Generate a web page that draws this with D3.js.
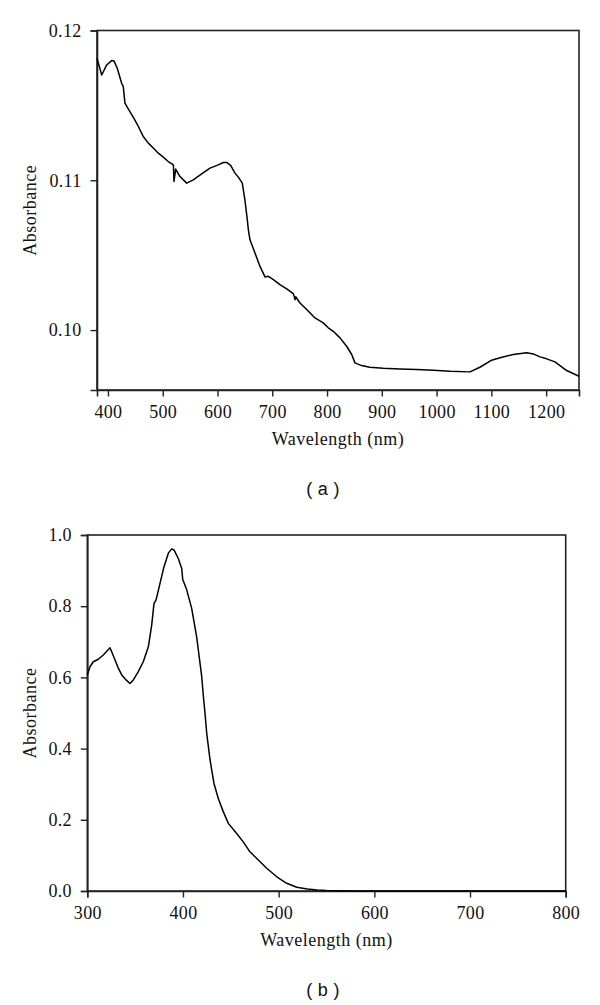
<!DOCTYPE html>
<html>
<head>
<meta charset="utf-8">
<script src="https://cdn.jsdelivr.net/npm/d3@7"></script>
<style>
  html, body { margin: 0; padding: 0; background: #fff; }
  svg { display: block; }
</style>
</head>
<body>
<svg id="chart" width="600" height="1005" xmlns="http://www.w3.org/2000/svg"></svg>
<script>
// ---- Panel (a) data ----
const waveA = [380, 388.6, 397.7, 406.8, 411, 417, 425, 428, 431, 440, 449, 455.5, 464.5, 473.7, 482.8, 491.9, 501, 510, 517.5, 519.5, 520.6, 523.6, 531.5, 543.7, 555.8, 571, 586.3, 601.5, 610.6, 616.7, 624, 632, 638, 645.3, 650, 654.4, 656.3, 659.3, 668.4, 677.6, 686.7, 692.8, 702, 714, 726.3, 738.4, 740, 741.5, 743, 750.6, 762.8, 778, 793, 802.3, 811.4, 823.6, 835.8, 845, 851, 863, 878, 902.7, 933, 963.7, 994, 1024.5, 1061, 1079, 1100.6, 1115.8, 1140, 1164.5, 1176.6, 1188.8, 1201, 1216, 1237.5, 1260];
const absA = [0.11815, 0.11703, 0.1177, 0.11799, 0.11797, 0.11748, 0.11648, 0.11625, 0.11515, 0.11459, 0.11403, 0.11359, 0.11292, 0.11248, 0.11215, 0.11181, 0.11155, 0.11125, 0.11108, 0.11100, 0.10992, 0.11075, 0.11025, 0.10981, 0.11003, 0.11043, 0.11081, 0.11103, 0.11119, 0.11119, 0.11099, 0.11048, 0.11021, 0.10981, 0.1087, 0.10737, 0.1067, 0.10603, 0.10515, 0.10425, 0.10355, 0.10359, 0.10337, 0.10303, 0.10275, 0.10243, 0.10225, 0.10203, 0.10222, 0.10181, 0.10137, 0.10081, 0.10048, 0.10015, 0.09992, 0.09948, 0.09892, 0.09837, 0.09781, 0.09763, 0.09752, 0.09745, 0.09741, 0.09737, 0.09732, 0.09725, 0.09721, 0.09752, 0.09799, 0.09815, 0.09837, 0.09848, 0.09841, 0.09821, 0.09808, 0.09788, 0.0973, 0.09692];
const xTicksA = [400, 500, 600, 700, 800, 900, 1000, 1100, 1200];
const yTicksA = [0.10, 0.11, 0.12];

// ---- Panel (b) data ----
const waveB = [300, 302.8, 306.3, 311.5, 316.7, 323.7, 325.5, 329, 332.4, 336, 340.5, 344.6, 348.1, 353.3, 358.5, 363.8, 367.3, 369.7, 371.8, 376, 380.2, 384.7, 388.2, 390.6, 395.1, 398.7, 399.7, 403.9, 409.1, 414.3, 419.6, 421.2, 423, 424.8, 428.3, 432.4, 436.9, 442.1, 447.4, 454.4, 463, 470, 478.7, 487.5, 498, 508.4, 518.9, 530, 540, 550, 560, 580, 600, 650, 700, 750, 800];
const absB = [0.607, 0.630, 0.644, 0.651, 0.663, 0.683, 0.672, 0.649, 0.626, 0.607, 0.593, 0.583, 0.593, 0.616, 0.644, 0.686, 0.747, 0.808, 0.817, 0.864, 0.911, 0.949, 0.961, 0.958, 0.934, 0.906, 0.876, 0.846, 0.794, 0.714, 0.602, 0.55, 0.50, 0.443, 0.368, 0.302, 0.260, 0.223, 0.190, 0.167, 0.138, 0.110, 0.087, 0.064, 0.040, 0.0216, 0.0104, 0.0055, 0.0028, 0.0012, 0.0006, 0.0003, 0.0002, 0.0001, 0.0, 0.0, 0.0];
const xTicksB = [300, 400, 500, 600, 700, 800];
const yTicksB = [0.0, 0.2, 0.4, 0.6, 0.8, 1.0];

const xTitle = "Wavelength (nm)";
const yTitle = "Absorbance";
const panelLabels = ["( a )", "( b )"];

const svg = d3.select("#chart");
const axisColor = "#222";
const SERIF = "Liberation Serif";
const SANS = "Liberation Sans";

function styleText(sel, fam, size, spacing) {
  sel.attr("font-family", fam).attr("font-size", size)
     .style("font-family", fam).style("font-size", size + "px")
     .style("letter-spacing", (spacing || 0) + "px")
     .attr("fill", "#111");
}

function drawPanel(cfg) {
  const { left, right, top, bottom, xDomain, yDomain, xs, ys, xTicks, yTicks, yFmt, label, labelY, xTitleY } = cfg;
  const x = d3.scaleLinear().domain(xDomain).range([left, right]);
  const y = d3.scaleLinear().domain(yDomain).range([bottom, top]);
  const g = svg.append("g");

  g.append("rect")
    .attr("x", left).attr("y", top)
    .attr("width", right - left).attr("height", bottom - top)
    .attr("fill", "none").attr("stroke", axisColor).attr("stroke-width", 1.6);

  const xAxis = d3.axisBottom(x).tickValues(xTicks).tickSize(6.5).tickPadding(9).tickFormat(d3.format("d"));
  const gx = g.append("g").attr("transform", `translate(0,${bottom})`).call(xAxis);
  const yAxis = d3.axisLeft(y).tickValues(yTicks).tickSize(6.5).tickPadding(9).tickFormat(yFmt);
  const gy = g.append("g").attr("transform", `translate(${left},0)`).call(yAxis);

  [gx, gy].forEach(a => {
    a.attr("font-family", SERIF).attr("font-size", 18);
    a.select(".domain").attr("stroke", axisColor).attr("stroke-width", 1.6);
    a.selectAll(".tick line").attr("stroke", axisColor).attr("stroke-width", 1.4);
    styleText(a.selectAll(".tick text"), SERIF, 18, 0.3);
  });

  const pts = xs.map((d, i) => [d, ys[i]]);
  g.append("path")
    .datum(pts)
    .attr("fill", "none")
    .attr("stroke", "#000")
    .attr("stroke-width", 1.5)
    .attr("stroke-linejoin", "round")
    .attr("d", d3.line().x(d => x(d[0])).y(d => y(d[1])));

  styleText(g.append("text")
    .attr("x", (left + right) / 2).attr("y", xTitleY)
    .attr("text-anchor", "middle")
    .text(xTitle), SERIF, 18, 0.5);
  styleText(g.append("text")
    .attr("transform", `translate(36,${(top + bottom) / 2}) rotate(-90)`)
    .attr("text-anchor", "middle")
    .text(yTitle), SERIF, 18, 0.5);

  styleText(g.append("text")
    .attr("x", 323).attr("y", labelY)
    .attr("text-anchor", "middle")
    .text(label), SANS, 18, 0.3);
}

drawPanel({
  left: 97, right: 579, top: 30.5, bottom: 390,
  xDomain: [380, 1260], yDomain: [0.096, 0.12],
  xs: waveA, ys: absA, xTicks: xTicksA, yTicks: yTicksA,
  yFmt: d3.format(".2f"), label: panelLabels[0], labelY: 495, xTitleY: 445
});

drawPanel({
  left: 87.3, right: 565.7, top: 535, bottom: 891,
  xDomain: [300, 800], yDomain: [0, 1],
  xs: waveB, ys: absB, xTicks: xTicksB, yTicks: yTicksB,
  yFmt: d3.format(".1f"), label: panelLabels[1], labelY: 996, xTitleY: 946
});
</script>
</body>
</html>
